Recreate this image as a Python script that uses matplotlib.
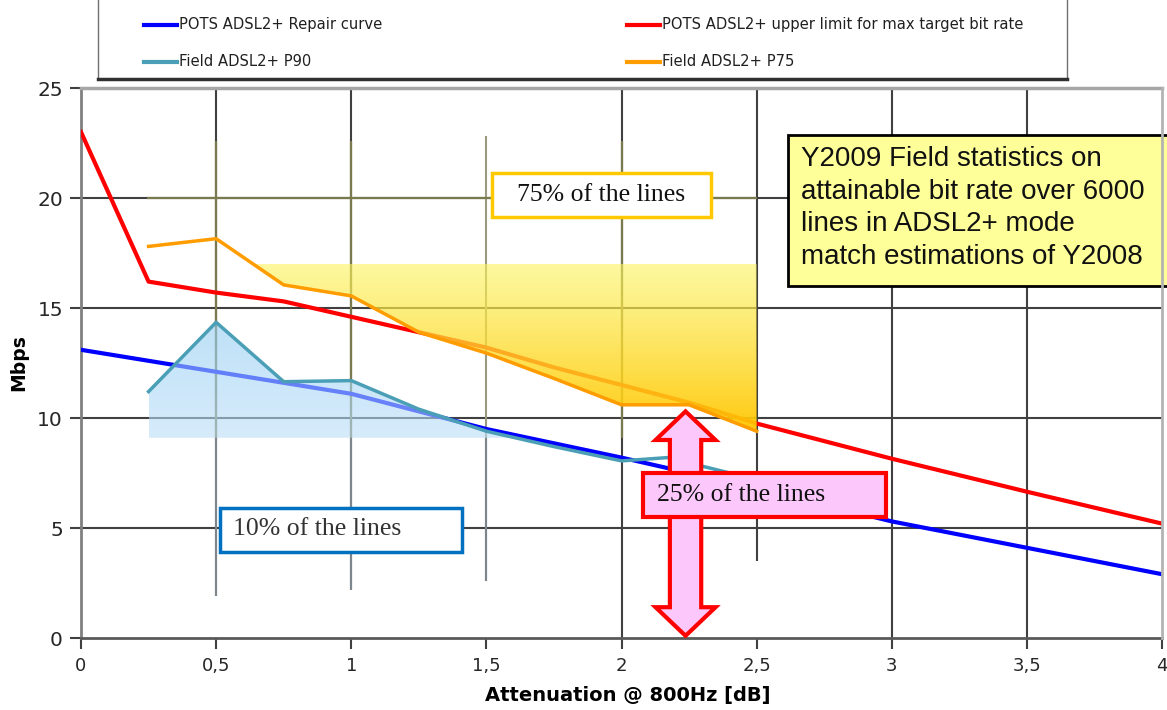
import numpy as np
import matplotlib
matplotlib.use("Agg")
import matplotlib.pyplot as plt
from matplotlib.patches import Rectangle, Polygon, PathPatch
from matplotlib.lines import Line2D
from matplotlib.colors import LinearSegmentedColormap

# values (Mbps against attenuation @ 800Hz in dB)
repair_x = [0, 0.5, 1, 1.5, 2, 2.5, 3, 3.5, 4]
repair_y = [13.1, 12.1, 11.1, 9.5, 8.2, 6.8, 5.3, 4.1, 2.9]

upper_x = [0, 0.25, 0.5, 0.75, 1, 1.25, 1.5, 1.75, 2, 2.25, 2.5, 3, 3.5, 4]
upper_y = [23.0, 16.2, 15.7, 15.3, 14.6, 13.9, 13.2, 12.3, 11.5, 10.7, 9.75, 8.15, 6.65, 5.2]

p90_x = [0.25, 0.5, 0.75, 1, 1.25, 1.5, 1.75, 2, 2.17, 2.5]
p90_y = [11.2, 14.35, 11.65, 11.7, 10.4, 9.4, 8.7, 8.05, 8.2, 7.2]

p75_x = [0.25, 0.5, 0.75, 1, 1.25, 1.5, 1.75, 2, 2.25, 2.5]
p75_y = [17.8, 18.15, 16.05, 15.55, 13.9, 12.95, 11.8, 10.6, 10.6, 9.4]

p75_band_top = 17.0     # flat top of the yellow "75%" band
p90_band_bottom = 9.1   # flat bottom of the blue "10%" band

x_ticks = [0, 0.5, 1, 1.5, 2, 2.5, 3, 3.5, 4]
x_tick_labels = ['0', '0,5', '1', '1,5', '2', '2,5', '3', '3,5', '4']
y_ticks = [0, 5, 10, 15, 20, 25]

legend_labels = ['POTS ADSL2+ Repair curve',
                 'POTS ADSL2+ upper limit for max target bit rate',
                 'Field ADSL2+ P90',
                 'Field ADSL2+ P75']

note_text = ('Y2009 Field statistics on\nattainable bit rate over 6000\n'
             'lines in ADSL2+ mode\nmatch estimations of Y2008')

W, H = 1167, 710
fig = plt.figure(figsize=(W / 100, H / 100), dpi=100)
ax = fig.add_axes([81 / W, 72 / H, 1081 / W, 550 / H])

GRID = '#404040'
OLIVE = '#7a7a4e'

# grid, the middle part looks pasted over so lines there are lighter / cut
for y in y_ticks[1:-1]:
    ax.axhline(y, color=GRID, lw=1.5, zorder=1)
vgrid = [(0.5, 1.9, 25), (1, 2.2, 25), (1.5, 2.6, 22.8), (2, 0, 25),
         (2.5, 3.5, 25), (3, 0, 25), (3.5, 0, 25)]
for x, lo, hi in vgrid:
    ax.vlines(x, lo, hi, color=GRID if x != 1.5 else '#9a9a80', lw=1.5, zorder=1)
ax.hlines(20, 0.245, 2.5, color=OLIVE, lw=1.6, zorder=1.1)
ax.vlines([0.5, 1, 2], p90_band_bottom, 22.6, color=OLIVE, lw=1.6, zorder=1.1)
ax.vlines([0.5, 1, 1.5], [1.9, 2.2, 2.6], p90_band_bottom, color='#7d858d', lw=1.5, zorder=1.1)

repair_line, = ax.plot(repair_x, repair_y, color='#0000ff', lw=3, zorder=3)
upper_line, = ax.plot(upper_x, upper_y, color='#ff0000', lw=3, zorder=3)
p90_line, = ax.plot(p90_x, p90_y, color='#4a9fb6', lw=2.5, zorder=5)
p75_line, = ax.plot(p75_x, p75_y, color='#ff9c00', lw=2.5, zorder=5)


def gradient_fill(poly, colors, alpha, z):
    path = poly.get_paths()[0]
    clip = PathPatch(path, transform=ax.transData, facecolor='none', edgecolor='none')
    ax.add_patch(clip)
    v = path.vertices
    ext = [v[:, 0].min(), v[:, 0].max(), v[:, 1].min(), v[:, 1].max()]
    grad = np.linspace(0, 1, 256).reshape(-1, 1)
    cmap = LinearSegmentedColormap.from_list('g', colors)
    im = ax.imshow(grad, extent=ext, origin='lower', cmap=cmap, alpha=alpha,
                   aspect='auto', interpolation='bilinear', zorder=z)
    im.set_clip_path(clip)
    poly.remove()


p90_arr = np.array(p90_y)
poly90 = ax.fill_between(p90_x, p90_y, p90_band_bottom, where=p90_arr >= p90_band_bottom,
                         interpolate=True, facecolor='none', edgecolor='none')
gradient_fill(poly90, ['#bcdff8', '#93cdf3'], 0.6, 4)

p75_arr = np.array(p75_y)
poly75 = ax.fill_between(p75_x, p75_y, p75_band_top, where=p75_arr <= p75_band_top,
                         interpolate=True, facecolor='none', edgecolor='none')
gradient_fill(poly75, ['#ffc600', '#fcf561'],
              np.linspace(0.95, 0.6, 256).reshape(-1, 1), 4)

# call-out boxes
ax.add_patch(Rectangle((1.522, 19.14), 0.808, 2.0, fc='white', ec='#ffc800', lw=2.5, zorder=6))
ax.text(1.926, 20.14, '75% of the lines', ha='center', va='center', zorder=7,
        family='Liberation Serif', fontsize=18.5, color='#111111')

ax.add_patch(Rectangle((0.515, 3.91), 0.896, 2.0, fc='white', ec='#0070c0', lw=2.5, zorder=6))
ax.text(0.563, 4.95, '10% of the lines', ha='left', va='center', zorder=7,
        family='Liberation Serif', fontsize=18.5, color='#333333')


def double_arrow(xc, y_lo, y_hi, shaft_hw, head_hw, head_len):
    xs = [xc, xc + head_hw, xc + shaft_hw, xc + shaft_hw, xc + head_hw, xc,
          xc - head_hw, xc - shaft_hw, xc - shaft_hw, xc - head_hw]
    ys = [y_hi, y_hi - head_len, y_hi - head_len, y_lo + head_len, y_lo + head_len, y_lo,
          y_lo + head_len, y_lo + head_len, y_hi - head_len, y_hi - head_len]
    return Polygon(np.column_stack([xs, ys]), closed=True)


arrow = double_arrow(2.237, 0.1, 10.3, 0.058, 0.111, 1.3)
arrow.set(facecolor='#fcc8fc', edgecolor='#ff0000', lw=3, joinstyle='miter', zorder=6)
ax.add_patch(arrow)

ax.add_patch(Rectangle((2.081, 5.5), 0.897, 2.0, fc='#fcc8fc', ec='#ff0000', lw=3, zorder=7))
ax.text(2.133, 6.5, '25% of the lines', ha='left', va='center', zorder=8,
        family='Liberation Serif', fontsize=18.5, color='#111111')

ax.add_patch(Rectangle((2.615, 16.0), 1.45, 6.86, fc='#ffff99', ec='black', lw=2,
                       zorder=6, clip_on=False))
ax.text(2.663, 22.35, note_text, ha='left', va='top', zorder=7, linespacing=1.32,
        family='Liberation Sans', fontsize=20, color='#111111', clip_on=False)

# axes styling
ax.set_xlim(0, 4)
ax.set_ylim(0, 25)
ax.set_xticks(x_ticks)
ax.set_xticklabels(x_tick_labels)
ax.set_yticks(y_ticks)
ax.tick_params(axis='both', direction='out', length=8, width=1.5, color='#404040',
               labelcolor='#262626')
ax.tick_params(axis='y', labelsize=14.5, pad=5)
ax.tick_params(axis='x', labelsize=13, pad=6)
ax.spines['top'].set(color='#a6a6a6', lw=2.5)
ax.spines['right'].set(color='#b3b3b3', lw=2, zorder=10)
ax.spines['left'].set(color='#808080', lw=2)
ax.spines['bottom'].set(color='#5a5a5a', lw=2)
ax.set_xlabel('Attenuation @ 800Hz [dB]', fontsize=14, fontweight='bold')
ax.xaxis.set_label_coords(0.506, -0.088)
ax.set_ylabel('Mbps', fontsize=13.5, fontweight='bold')
ax.yaxis.set_label_coords(-0.049, 0.5)

# legend panel above the plot
fig.add_artist(Rectangle((98 / W, 1 - 79 / H), (1067 - 98) / W, 0.2, transform=fig.transFigure,
                         fc='white', ec='#707070', lw=1))
fig.add_artist(Line2D([98 / W, 1067 / W], [1 - 79 / H] * 2, transform=fig.transFigure,
                      color='#303030', lw=2.5))
handles = [repair_line, upper_line, p90_line, p75_line]
spots = [(144, 25), (627, 25), (144, 62), (627, 62)]
for line, label, (px, py) in zip(handles, legend_labels, spots):
    fig.add_artist(Line2D([px / W, (px + 33) / W], [1 - py / H] * 2, transform=fig.transFigure,
                          color=line.get_color(), lw=3))
    fig.text((px + 35) / W, 1 - py / H, label, va='center', fontsize=10.6, color='#202020')

fig.savefig('out.png', dpi=100)
